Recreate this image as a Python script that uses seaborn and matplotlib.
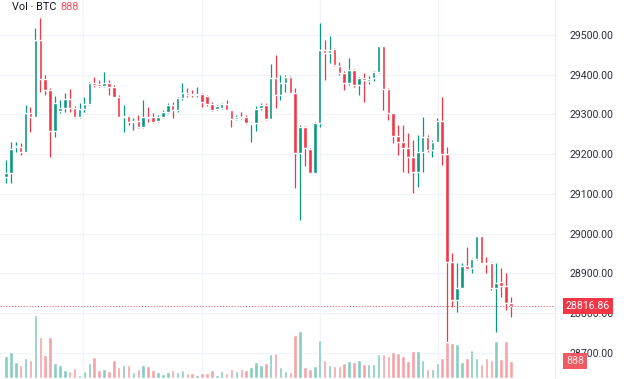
import matplotlib
matplotlib.use("Agg")
import matplotlib.pyplot as plt
import matplotlib.transforms as mtransforms
import numpy as np
import pandas as pd
import seaborn as sns

# 104 candles
opens = [
    29142, 29152, 29218, 29218, 29205, 29304, 29293, 29487, 29389, 29361,
    29258, 29309, 29316, 29339, 29316, 29293, 29314, 29326, 29379, 29377,
    29372, 29379, 29369, 29344, 29293, 29296, 29281, 29283, 29268, 29293,
    29293, 29283, 29293, 29306, 29324, 29311, 29341, 29354, 29351, 29349,
    29351, 29346, 29326, 29314, 29316, 29326, 29311, 29288, 29293, 29293,
    29276, 29278, 29316, 29324, 29288, 29392, 29349, 29379, 29394, 29354,
    29203, 29268, 29213, 29152, 29278, 29462, 29455, 29465, 29422, 29404,
    29379, 29412, 29374, 29392, 29384, 29392, 29407, 29472, 29364, 29304,
    29246, 29230, 29215, 29193, 29155, 29205, 29243, 29210, 29230, 29283,
    29200, 28928, 28832, 28863, 28918, 28913, 28936, 28994, 28926, 28926,
    28863, 28878, 28868, 28825,
]
highs = [
    29185, 29230, 29230, 29228, 29324, 29319, 29518, 29543, 29399, 29366,
    29346, 29336, 29354, 29364, 29321, 29329, 29344, 29382, 29394, 29387,
    29407, 29387, 29374, 29349, 29324, 29298, 29291, 29298, 29336, 29319,
    29304, 29298, 29311, 29329, 29331, 29344, 29379, 29366, 29361, 29369,
    29354, 29349, 29331, 29324, 29329, 29336, 29311, 29298, 29306, 29298,
    29281, 29321, 29329, 29329, 29427, 29450, 29399, 29399, 29397, 29366,
    29273, 29271, 29215, 29281, 29530, 29487, 29497, 29467, 29432, 29409,
    29442, 29414, 29394, 29404, 29397, 29409, 29472, 29472, 29366, 29304,
    29273, 29273, 29253, 29236, 29248, 29293, 29248, 29236, 29291, 29344,
    29218, 28951, 28926, 28926, 28966, 28938, 28994, 28994, 28941, 28928,
    28926, 28913, 28900, 28840,
]
lows = [
    29127, 29127, 29205, 29198, 29205, 29256, 29293, 29356, 29349, 29193,
    29243, 29304, 29306, 29306, 29291, 29291, 29306, 29324, 29369, 29369,
    29369, 29349, 29344, 29293, 29256, 29273, 29261, 29266, 29266, 29281,
    29278, 29281, 29291, 29304, 29291, 29306, 29336, 29344, 29344, 29344,
    29319, 29321, 29309, 29311, 29314, 29311, 29268, 29286, 29288, 29276,
    29230, 29258, 29311, 29286, 29288, 29316, 29336, 29356, 29354, 29115,
    29034, 29170, 29152, 29152, 29268, 29387, 29430, 29422, 29399, 29361,
    29374, 29369, 29349, 29331, 29377, 29384, 29404, 29311, 29286, 29228,
    29198, 29155, 29152, 29102, 29117, 29155, 29205, 29193, 29230, 29173,
    28712, 28815, 28802, 28863, 28908, 28900, 28933, 28926, 28900, 28858,
    28752, 28840, 28807, 28790,
]
closes = [
    29152, 29213, 29220, 29205, 29304, 29293, 29487, 29389, 29361, 29258,
    29329, 29316, 29339, 29316, 29293, 29314, 29326, 29379, 29374, 29372,
    29379, 29369, 29344, 29293, 29296, 29281, 29283, 29268, 29293, 29291,
    29281, 29293, 29306, 29324, 29311, 29341, 29354, 29349, 29349, 29351,
    29331, 29326, 29311, 29321, 29326, 29311, 29288, 29293, 29291, 29278,
    29278, 29314, 29324, 29288, 29392, 29349, 29379, 29394, 29354, 29203,
    29268, 29215, 29152, 29278, 29462, 29455, 29462, 29424, 29404, 29379,
    29412, 29374, 29392, 29387, 29389, 29407, 29472, 29364, 29304, 29246,
    29230, 29215, 29193, 29155, 29205, 29243, 29210, 29230, 29283, 29200,
    28928, 28832, 28863, 28918, 28911, 28936, 28994, 28926, 28923, 28863,
    28875, 28868, 28825, 28816.86,
]
volumes = [
    217, 257, 160, 127, 200, 183, 627, 410, 230, 407,
    150, 133, 83, 67, 100, 33, 73, 150, 207, 83,
    93, 67, 177, 110, 127, 127, 60, 90, 133, 117,
    83, 60, 43, 60, 77, 60, 77, 50, 50, 33,
    53, 50, 77, 30, 67, 50, 93, 67, 90, 83,
    107, 160, 133, 150, 243, 250, 107, 67, 60, 427,
    467, 107, 93, 117, 383, 183, 127, 117, 117, 150,
    167, 157, 183, 143, 143, 143, 243, 243, 217, 257,
    250, 217, 167, 267, 267, 183, 93, 90, 150, 197,
    357, 350, 340, 160, 197, 283, 200, 143, 200, 177,
    373, 193, 373, 173,
]
price_ticks = [28700, 28800, 28900, 29000, 29100, 29200, 29300, 29400, 29500]
time_grid = [15.8, 39.9, 64.0, 88.1]

UP = "#089981"
DOWN = "#f23645"
UP_VOL = "#86cdc2"
DOWN_VOL = "#f6a3a8"

sns.set_theme(style="white")
plt.rcParams["font.family"] = ["Roboto", "DejaVu Sans"]

df = pd.DataFrame({"idx": np.arange(len(closes)), "open": opens, "high": highs,
                   "low": lows, "close": closes, "volume": volumes})
df["dir"] = np.where(df["close"] >= df["open"], "up", "down")

fig = plt.figure(figsize=(6.4, 3.79), dpi=100)
W = 555 / 640
xlim = (-1.22, 112.0)

# volume pane (behind)
ax_vol = fig.add_axes([0, 1 / 379, W, 0.3])
sns.barplot(data=df, x="idx", y="volume", hue="dir", native_scale=True,
            palette={"up": UP_VOL, "down": DOWN_VOL}, saturation=1,
            dodge=False, width=0.72, errorbar=None, legend=False, ax=ax_vol)
ax_vol.set_xlim(xlim)
ax_vol.set_ylim(0, 1137)
ax_vol.axis("off")
ax_vol.set_zorder(1)

# price pane
ax = fig.add_axes([0, 0, W, 1])
ax.set_zorder(2)
ax.patch.set_visible(False)
colors = np.where(df["dir"] == "up", UP, DOWN)
ax.vlines(df["idx"], df["low"], df["high"], colors=colors, lw=0.9, zorder=3)
body = np.maximum((df["close"] - df["open"]).abs(), 2.5)
ax.bar(df["idx"], body, bottom=np.minimum(df["open"], df["close"]),
       width=0.72, color=colors, zorder=4)

ax.set_xlim(xlim)
ax.set_ylim(28633.5, 29588.2)
ax.set_xticks(time_grid)
ax.set_yticks(price_ticks)
ax.set_yticklabels([f"{t:.2f}" for t in price_ticks])
ax.yaxis.tick_right()
ax.tick_params(axis="y", length=0, pad=10.5, labelsize=7.6, labelcolor="#2a2e39")
ax.tick_params(axis="x", length=0, labelbottom=False)
ax.grid(True, color="#f0f3fa", lw=0.9)
ax.set_axisbelow(True)
for side in ["top", "left", "bottom"]:
    ax.spines[side].set_visible(False)
ax.spines["right"].set_color("#e9ebf0")
ax.spines["right"].set_linewidth(0.8)

# last price line and labels
last = closes[-1]
ax.axhline(last, color=DOWN, ls=(0, (1, 1.6)), lw=0.8, alpha=0.75, zorder=5)
trans = mtransforms.blended_transform_factory(fig.transFigure, ax.transData)
ax.text(566 / 640, last, f"{last:.2f}", transform=trans, ha="left", va="center",
        color="white", fontsize=7.6, clip_on=False, zorder=10,
        bbox=dict(boxstyle="square,pad=0.3", fc=DOWN, ec="none"))
trans_v = mtransforms.blended_transform_factory(fig.transFigure, ax_vol.transData)
ax_vol.text(566 / 640, volumes[-1], "888", transform=trans_v, ha="left", va="center",
            color="#fde3e3", fontsize=7.6, clip_on=False, zorder=10,
            bbox=dict(boxstyle="square,pad=0.3", fc="#f05a63", ec="none"))
ax_vol.set_zorder(3)
ax_vol.patch.set_visible(False)

fig.text(12 / 640, 1 - 7 / 379, "Vol · BTC", fontsize=7.8, color="#131722", va="center")
fig.text(60 / 640, 1 - 7 / 379, "888", fontsize=7.8, color="#f7525f", va="center")

fig.savefig("out.png", dpi=100)
